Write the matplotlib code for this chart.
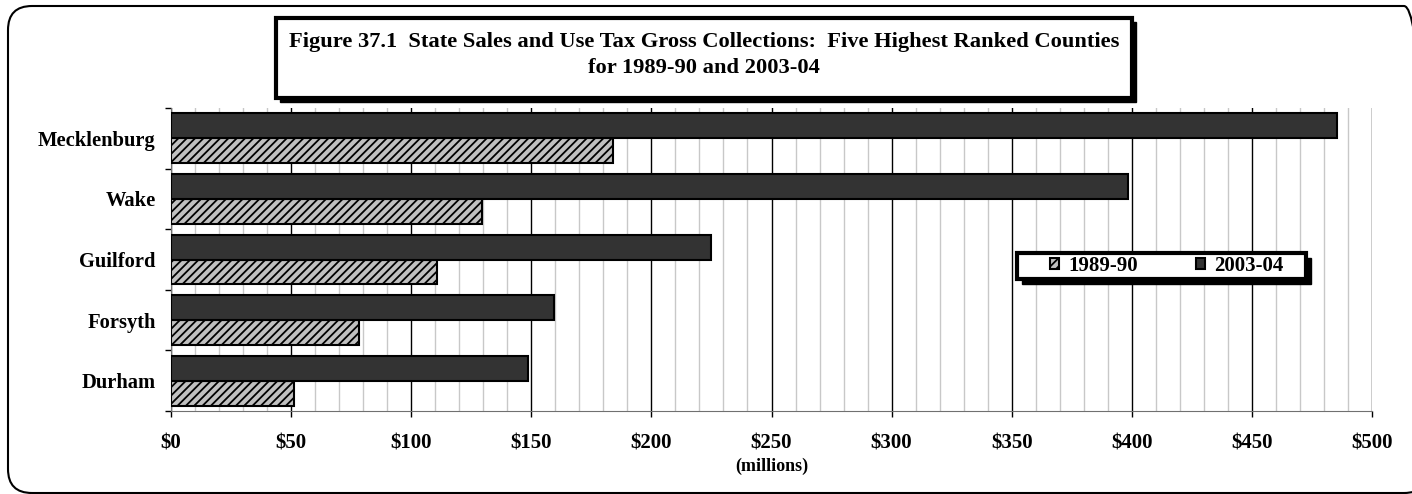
import numpy as np
import matplotlib
matplotlib.use("Agg")
from matplotlib import pyplot as plt
from matplotlib.patches import Rectangle, FancyBboxPatch
from matplotlib.transforms import IdentityTransform
from matplotlib.ticker import MultipleLocator, FuncFormatter

counties = ["Mecklenburg", "Wake", "Guilford", "Forsyth", "Durham"]
fy_1989 = [184.0, 129.6, 110.8, 78.3, 51.2]      # $ millions
fy_2003 = [485.4, 398.3, 225.0, 159.6, 148.6]    # $ millions
series_labels = ["1989-90", "2003-04"]

title = ("Figure 37.1  State Sales and Use Tax Gross Collections:  Five Highest Ranked Counties\n"
         "for 1989-90 and 2003-04")

plt.rcParams['font.family'] = ['Liberation Serif', 'DejaVu Serif']
plt.rcParams['font.weight'] = 'bold'
plt.rcParams['hatch.linewidth'] = 1.3
plt.rcParams['hatch.color'] = 'black'

W, H = 1412, 494
fig = plt.figure(figsize=(W / 100, H / 100), dpi=100)
px = IdentityTransform()

# plot area in pixel terms
x0, x1, ytop, ybot = 171, 1372, 108, 411
ax = fig.add_axes([x0 / W, 1 - ybot / H, (x1 - x0) / W, (ybot - ytop) / H])

y = np.arange(len(counties))
h = 0.41
b_old = ax.barh(y + h / 2, fy_1989, height=h, color='#c0c0c0', edgecolor='black',
                linewidth=1.5, hatch='////', label=series_labels[0], zorder=3)
b_new = ax.barh(y - h / 2, fy_2003, height=h, color='#333333', edgecolor='black',
                linewidth=1.5, label=series_labels[1], zorder=3)

ax.set_xlim(0, 500)
ax.set_ylim(len(counties) - 0.5, -0.5)

ax.xaxis.set_major_locator(MultipleLocator(50))
ax.xaxis.set_minor_locator(MultipleLocator(10))
ax.xaxis.set_major_formatter(FuncFormatter(lambda v, p: f"${v:.0f}"))
ax.grid(which='major', axis='x', color='black', linewidth=1.0, zorder=1)
ax.grid(which='minor', axis='x', color='#c8c8c8', linewidth=1.0, zorder=0)
ax.set_axisbelow(True)

ax.set_yticks(y)
ax.set_yticklabels(counties)
ax.set_yticks(np.arange(len(counties) + 1) - 0.5, minor=True)
ax.tick_params(axis='y', which='major', length=0, pad=11, labelsize=14.8)
ax.tick_params(axis='y', which='minor', length=4.5, width=1, color='black')
ax.tick_params(axis='x', which='major', length=4.5, width=1, color='black',
               pad=12, labelsize=15)
ax.tick_params(axis='x', which='minor', length=0)

for side in ('top', 'right'):
    ax.spines[side].set_visible(False)
ax.spines['bottom'].set_color('#707070')
ax.spines['left'].set_color('#707070')

ax.set_xlabel("(millions)", fontsize=13, fontweight='bold', labelpad=3)

# legend box with drop shadow, entries placed inside it
lx0, lx1, ly0, ly1 = 1017, 1306, 253, 279
ax.add_patch(Rectangle((lx0 + 5, H - ly1 - 5), lx1 - lx0, ly1 - ly0, transform=px,
                       facecolor='black', edgecolor='black', zorder=8, clip_on=False))
ax.add_patch(Rectangle((lx0, H - ly1), lx1 - lx0, ly1 - ly0, transform=px,
                       facecolor='white', edgecolor='black', linewidth=3, zorder=9,
                       clip_on=False))
leg = ax.legend(handles=[b_old, b_new], loc='center', bbox_to_anchor=(0.829, 0.4785),
                ncol=2, fontsize=15, frameon=False,
                handlelength=0.45, handleheight=0.45, handletextpad=0.43, columnspacing=2.8,
                borderpad=0, borderaxespad=0)
leg.set_zorder(10)

# title box with drop shadow
tx0, tx1, ty0, ty1 = 276, 1132, 18, 98
fig.patches.append(Rectangle((tx0 + 4, H - ty1 - 4), tx1 - tx0, ty1 - ty0, transform=px,
                             facecolor='black', edgecolor='black', zorder=5))
fig.patches.append(Rectangle((tx0, H - ty1), tx1 - tx0, ty1 - ty0, transform=px,
                             facecolor='white', edgecolor='black', linewidth=3, zorder=6))
fig.text((tx0 + tx1) / 2 / W, 1 - 55 / H, title, ha='center', va='center',
         fontsize=16.2, fontweight='bold', linespacing=1.45, zorder=7)

# rounded outer border
fig.patches.append(FancyBboxPatch((8, 1), 1420, 487, transform=px,
                                  boxstyle="round,pad=0,rounding_size=24",
                                  facecolor='none', edgecolor='black', linewidth=1.5))

fig.savefig("out.png", dpi=100)
